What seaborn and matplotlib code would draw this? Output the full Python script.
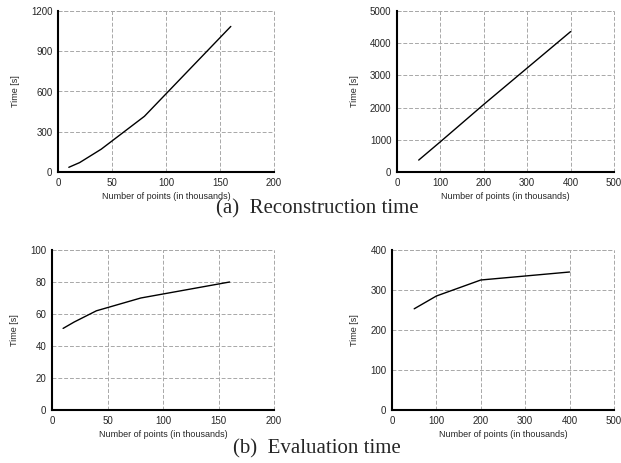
import numpy as np
import pandas as pd
import matplotlib
matplotlib.use("Agg")
import matplotlib.pyplot as plt
import seaborn as sns

# data
recon_small_x = [10, 20, 40, 80, 160]
recon_small_y = [35, 70, 170, 415, 1085]
recon_large_x = [50, 100, 200, 400]
recon_large_y = [370, 940, 2100, 4360]
eval_small_x = [10, 20, 40, 80, 160]
eval_small_y = [51, 55, 62, 70, 80]
eval_large_x = [50, 100, 200, 400]
eval_large_y = [253, 285, 325, 345]

xlabel = "Number of points (in thousands)"
ylabel = "Time [s]"

sns.set_style("white")
plt.rcParams['font.family'] = ['Liberation Sans', 'DejaVu Sans']

fig = plt.figure(figsize=(6.21, 4.63), dpi=100)
W, H = 621, 463

def make_ax(px, xs, ys, xlim, xticks, ylim, yticks):
    l, r, t, b = px
    ax = fig.add_axes([l / W, 1 - b / H, (r - l) / W, (b - t) / H])
    df = pd.DataFrame({"x": xs, "y": ys})
    sns.lineplot(data=df, x="x", y="y", ax=ax, color="black", linewidth=1.0)
    ax.set_xlim(*xlim)
    ax.set_ylim(*ylim)
    ax.set_xticks(xticks)
    ax.set_yticks(yticks)
    ax.grid(True, linestyle=(0, (4, 2)), color="#a8a8a8", linewidth=0.7)
    ax.set_axisbelow(True)
    for s in ["top", "right"]:
        ax.spines[s].set_visible(False)
    for s in ["left", "bottom"]:
        ax.spines[s].set_color("black")
        ax.spines[s].set_linewidth(1.5)
    ax.tick_params(axis="both", labelsize=7, length=0, pad=4)
    ax.set_xlabel(xlabel, fontsize=6.5, labelpad=3)
    ax.set_ylabel(ylabel, fontsize=6.5, labelpad=8)
    # grid lines at the limits form the top/right border
    ax.axhline(ylim[1], color="#a8a8a8", linestyle=(0, (4, 2)), linewidth=0.7, clip_on=False)
    ax.axvline(xlim[1], color="#a8a8a8", linestyle=(0, (4, 2)), linewidth=0.7, clip_on=False)
    return ax

make_ax((58, 274, 11, 172), recon_small_x, recon_small_y,
        (0, 200), [0, 50, 100, 150, 200], (0, 1200), [0, 300, 600, 900, 1200])
make_ax((397, 614, 11, 172), recon_large_x, recon_large_y,
        (0, 500), [0, 100, 200, 300, 400, 500], (0, 5000), [0, 1000, 2000, 3000, 4000, 5000])
make_ax((52, 274, 250, 410), eval_small_x, eval_small_y,
        (0, 200), [0, 50, 100, 150, 200], (0, 100), [0, 20, 40, 60, 80, 100])
make_ax((392, 614, 250, 410), eval_large_x, eval_large_y,
        (0, 500), [0, 100, 200, 300, 400, 500], (0, 400), [0, 100, 200, 300, 400])

fig.text(0.511, 1 - 209 / H, "(a)  Reconstruction time", ha="center", va="center",
         fontsize=15, family="Liberation Serif")
fig.text(0.511, 1 - 449 / H, "(b)  Evaluation time", ha="center", va="center",
         fontsize=15, family="Liberation Serif")

fig.savefig("out.png", dpi=100)
